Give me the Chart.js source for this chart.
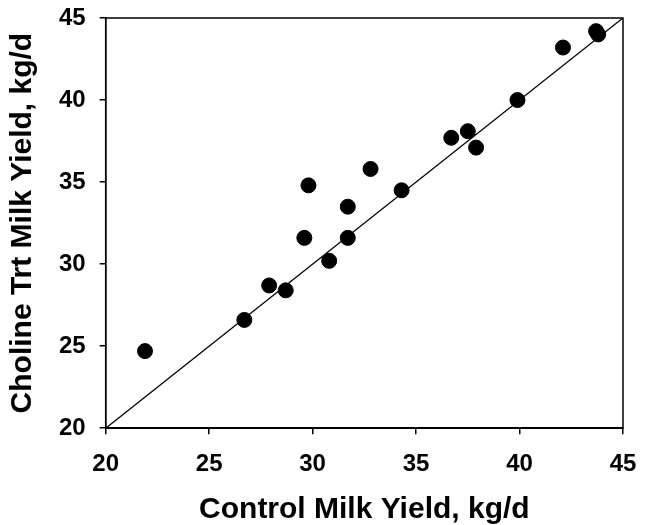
<!DOCTYPE html>
<html>
<head>
<meta charset="utf-8">
<script src="https://cdn.jsdelivr.net/npm/chart.js@4/dist/chart.umd.min.js"></script>
<style>
  body { margin: 0; background: #fff; }
  #wrap { width: 656px; height: 525px; }
</style>
</head>
<body>
<div id="wrap"><canvas id="milkChart" width="656" height="525"></canvas></div>
<script>
// milk yield per cow, kg/d
var controlYield = [21.9, 26.7, 27.9, 28.7, 29.6, 29.8, 30.8, 31.7, 31.7, 32.8, 34.3, 36.7, 37.5, 37.9, 39.9, 42.1, 43.7, 43.8];
var cholineYield = [24.7, 26.6, 28.7, 28.4, 31.6, 34.8, 30.2, 33.5, 31.6, 35.8, 34.5, 37.7, 38.1, 37.1, 40.0, 43.2, 44.2, 44.0];
// 1:1 line ends
var unityLine = [20, 45];
var axisTicks = [20, 25, 30, 35, 40, 45];

var points = controlYield.map(function (v, i) {
  return { x: v, y: cholineYield[i] };
});
var unity = unityLine.map(function (v) {
  return { x: v, y: v };
});

// box round the plot area (top + right sides)
var boxPlugin = {
  id: 'box',
  afterDraw: function (chart) {
    var a = chart.chartArea;
    var c = chart.ctx;
    c.save();
    c.strokeStyle = '#000';
    c.lineWidth = 1.5;
    c.strokeRect(a.left, a.top, a.right - a.left, a.bottom - a.top);
    c.restore();
  }
};

var fontFam = '"Liberation Sans", Arial, sans-serif';

var ctx = document.getElementById('milkChart');
new Chart(ctx, {
  type: 'scatter',
  data: {
    datasets: [{
      type: 'line',
      data: unity,
      borderColor: '#000',
      borderWidth: 1.3,
      pointRadius: 0,
      fill: false,
      order: 2
    }, {
      data: points,
      backgroundColor: '#000',
      borderColor: '#000',
      pointRadius: 7.5,
      pointHoverRadius: 7.5,
      order: 1
    }]
  },
  plugins: [boxPlugin],
  options: {
    responsive: false,
    animation: false,
    layout: { padding: { top: 18, right: 33, left: 1, bottom: 0 } },
    plugins: {
      legend: { display: false },
      tooltip: { enabled: false }
    },
    scales: {
      x: {
        type: 'linear',
        min: 20,
        max: 45,
        afterBuildTicks: function (axis) {
          axis.ticks = axisTicks.map(function (v) { return { value: v }; });
        },
        grid: { drawOnChartArea: false, color: '#000', tickLength: 6, lineWidth: 1.5 },
        border: { color: '#000', width: 1.5 },
        ticks: { color: '#000', font: { family: fontFam, size: 24, weight: 'bold' }, padding: 16 },
        title: {
          display: true,
          text: 'Control Milk Yield, kg/d',
          color: '#000',
          font: { family: fontFam, size: 30, weight: 'bold', lineHeight: 1 },
          padding: { top: 0, bottom: 0 }
        }
      },
      y: {
        type: 'linear',
        min: 20,
        max: 45,
        afterBuildTicks: function (axis) {
          axis.ticks = axisTicks.map(function (v) { return { value: v }; });
        },
        // keep the label gap from pushing the plot down
        afterFit: function (axis) {
          axis.paddingTop = 12;
          axis.paddingBottom = 12;
        },
        grid: { drawOnChartArea: false, color: '#000', tickLength: 6, lineWidth: 1.5 },
        border: { color: '#000', width: 1.5 },
        ticks: { color: '#000', font: { family: fontFam, size: 24, weight: 'bold' }, padding: 14 },
        title: {
          display: true,
          text: 'Choline Trt Milk Yield, kg/d',
          color: '#000',
          font: { family: fontFam, size: 30, weight: 'bold' },
          padding: { bottom: 4 }
        }
      }
    }
  }
});
</script>
</body>
</html>
